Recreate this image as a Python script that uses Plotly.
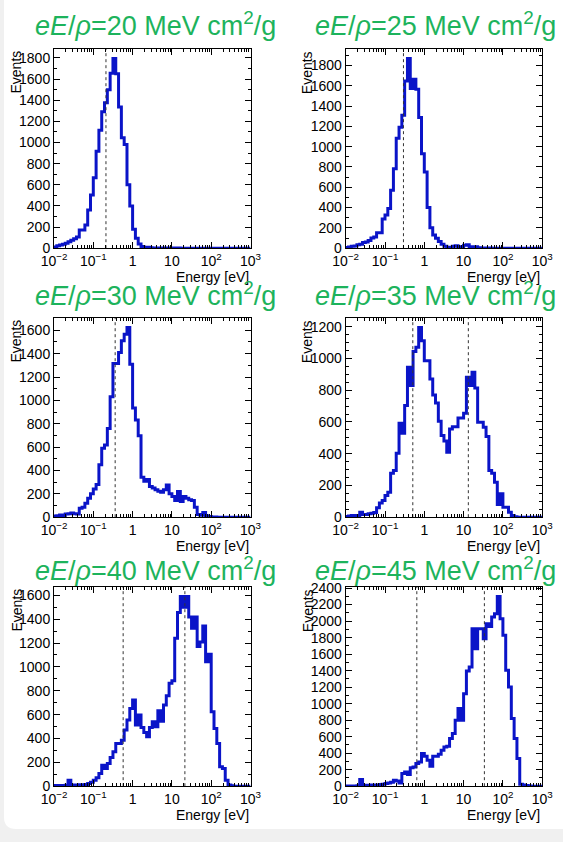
import numpy as np
import plotly.graph_objects as go
from plotly.subplots import make_subplots

FIG_W, FIG_H = 563, 842
FONT = "Liberation Sans, Arial, Helvetica, sans-serif"

# ---------------- data ----------------
field_labels = ["20", "25", "30", "35", "40", "45"]   # eE/rho in MeV cm^2/g
E_MIN, E_MAX, N_BINS = 1e-2, 1e3, 70                  # log-spaced energy bins [eV]

counts_20 = [12, 22, 30, 38, 48, 60, 75, 90, 105, 173, 173, 220, 362, 503,
             667, 918, 1116, 1290, 1377, 1500, 1655, 1795, 1650, 1335, 1045,
             980, 600, 400, 180, 95, 40, 15, 5, 8, 5, 3, 3, 2, 2, 1,
             2, 1, 1, 0, 1, 0, 0, 0, 0, 0, 0, 0, 0, 0, 0,
             0, 0, 0, 0, 0, 0, 0, 0, 0, 0, 0, 0, 0, 0, 0]
counts_25 = [8, 13, 18, 22, 33, 38, 55, 62, 75, 100, 110, 153, 153, 287,
             326, 391, 570, 783, 1083, 1190, 1310, 1646, 1868, 1572, 1663,
             1565, 1288, 929, 750, 401, 202, 130, 98, 65, 39, 20, 10, 8, 20,
             25, 15, 10, 30, 35, 15, 8, 15, 5, 3, 2, 1, 1, 0, 0, 0,
             0, 0, 0, 0, 0, 0, 0, 0, 0, 0, 0, 0, 0, 0, 0]
counts_30 = [10, 12, 18, 15, 28, 30, 37, 30, 28, 77, 85, 120, 162, 200,
             242, 279, 450, 590, 618, 760, 1031, 1316, 1316, 1410, 1510,
             1567, 1624, 1310, 934, 832, 698, 342, 308, 322, 262, 251, 234,
             222, 214, 234, 276, 200, 177, 142, 220, 134, 177, 162, 150, 142,
             85, 23, 17, 40, 12, 5, 2, 1, 0, 0, 0, 0, 0, 0, 0,
             0, 0, 0, 0, 0]
counts_35 = [5, 8, 10, 8, 10, 31, 17, 17, 21, 25, 29, 59, 90, 105, 136,
             157, 277, 294, 403, 592, 529, 703, 944, 829, 1043, 1070, 1195,
             1112, 985, 985, 870, 770, 720, 604, 514, 480, 409, 556, 570,
             570, 625, 625, 654, 881, 829, 913, 814, 598, 598, 566, 508,
             294, 277, 220, 80, 147, 63, 63, 31, 10, 3, 0, 0, 0, 0,
             0, 0, 0, 0, 0]
counts_40 = [5, 5, 5, 5, 8, 50, 8, 10, 10, 12, 12, 15, 22, 34, 50, 70,
             106, 176, 148, 190, 240, 288, 358, 358, 386, 470, 554, 652, 722,
             512, 596, 492, 450, 414, 492, 540, 498, 632, 545, 680, 758, 862,
             884, 1240, 1455, 1590, 1500, 1590, 1418, 1323, 1418, 1170, 1208,
             1343, 1043, 1105, 624, 484, 358, 162, 148, 50, 11, 3, 0,
             0, 0, 0, 0, 0]
counts_45 = [3, 3, 3, 3, 5, 80, 8, 10, 12, 14, 16, 16, 20, 25, 32, 40, 48,
             72, 64, 40, 153, 173, 141, 222, 234, 274, 294, 395, 363, 315,
             242, 363, 363, 387, 435, 476, 484, 577, 637, 798, 940, 798, 1121,
             1395, 1444, 1907, 1665, 1907, 1907, 1786, 1968, 1935, 2048, 2089,
             2298, 2028, 1827, 1403, 1202, 819, 577, 335, 24, 16, 8, 3,
             0, 0, 0, 0]

cuts_20 = [0.21]
cuts_25 = [0.295]
cuts_30 = [0.36]
cuts_35 = [0.51, 13.2]
cuts_40 = [0.575, 21.4]
cuts_45 = [0.645, 33.8]

all_counts = [counts_20, counts_25, counts_30, counts_35, counts_40, counts_45]
all_cuts = [cuts_20, cuts_25, cuts_30, cuts_35, cuts_40, cuts_45]
y_minor_step = [100, 100, 100, 50, 100, 100]

x_major = [1e-2, 1e-1, 1, 10, 100, 1000]
x_major_text = ["10<sup>−2</sup>", "10<sup>−1</sup>", "1", "10",
                "10<sup>2</sup>", "10<sup>3</sup>"]
x_minor = [m * 10.0 ** d for d in range(-2, 3) for m in range(2, 10)]

# ---------------- geometry (pixels) ----------------
col_left = [54, 345.7]
frame_w = 196.5
row_top = [49, 318, 587]
frame_h = 199.2

bin_edges = np.logspace(np.log10(E_MIN), np.log10(E_MAX), N_BINS + 1)

fig = make_subplots(rows=3, cols=2)

HIST_COLOR = "#0a14c8"
GREEN = "#1db35c"

for i, (counts, cuts) in enumerate(zip(all_counts, all_cuts)):
    r, c = i // 2, i % 2
    xs = list(bin_edges[:-1]) + [bin_edges[-1]]
    ys = list(counts) + [counts[-1]]
    fig.add_trace(go.Scatter(x=xs, y=ys, mode="lines", line_shape="hv",
                             line=dict(color=HIST_COLOR, width=3),
                             showlegend=False, hoverinfo="skip"),
                  row=r + 1, col=c + 1)
    ymax = 1.05 * max(counts)
    for cut in cuts:
        fig.add_trace(go.Scatter(x=[cut, cut], y=[0, ymax], mode="lines",
                                 line=dict(color="#333333", width=1, dash="3px,3px"),
                                 showlegend=False, hoverinfo="skip"),
                      row=r + 1, col=c + 1)

    x0 = col_left[c] / FIG_W
    x1 = (col_left[c] + frame_w) / FIG_W
    yt = 1 - row_top[r] / FIG_H
    yb = 1 - (row_top[r] + frame_h) / FIG_H
    axn = "" if i == 0 else str(i + 1)
    fig.layout["xaxis" + axn].update(
        domain=[x0, x1], type="log", range=[-2, 3], showgrid=False,
        automargin=False,
        zeroline=False, showline=True, linecolor="black", linewidth=1,
        mirror="allticks", ticks="inside", ticklen=6, tickwidth=1,
        tickcolor="black", tickmode="array", tickvals=x_major,
        ticktext=x_major_text,
        tickfont=dict(family=FONT, size=14, color="black"),
        minor=dict(tickmode="array", tickvals=x_minor, ticks="inside",
                   ticklen=3, tickwidth=1, tickcolor="black", showgrid=False))
    fig.layout["yaxis" + axn].update(
        domain=[yb, yt], range=[0, ymax], showgrid=False, zeroline=False,
        automargin=False,
        showline=True, linecolor="black", linewidth=1, mirror="allticks",
        ticks="inside", ticklen=6, tickwidth=1, tickcolor="black",
        tick0=0, dtick=200,
        tickfont=dict(family=FONT, size=14, color="black"),
        minor=dict(tick0=0, dtick=y_minor_step[i], ticks="inside", ticklen=3,
                   tickwidth=1, tickcolor="black", showgrid=False))

    # panel title
    title_cx = [155.5, 435.5][c]
    title_cy = [24, 294, 569][r]
    fig.add_annotation(
        xref="paper", yref="paper", x=title_cx / FIG_W, y=1 - title_cy / FIG_H,
        xanchor="center", yanchor="middle", showarrow=False,
        text="<i>eE</i>/<i>ρ</i>=" + field_labels[i] + " MeV cm<sup>2</sup>/g",
        font=dict(family=FONT, size=27, color=GREEN))
    # y title
    fig.add_annotation(
        xref="paper", yref="paper", x=(col_left[c] - 38) / FIG_W, y=yt,
        xanchor="center", yanchor="top", showarrow=False, textangle=-90,
        text="Events", font=dict(family=FONT, size=14, color="black"))
    # x title
    fig.add_annotation(
        xref="paper", yref="paper", x=x1, y=1 - (row_top[r] + frame_h + 29) / FIG_H,
        xanchor="right", yanchor="middle", showarrow=False,
        text="Energy [eV]", font=dict(family=FONT, size=14, color="black"))

# white card with rounded lower-left corner on a light grey page
cx0, cyb, rad = 4 / FIG_W, 1 - 829 / FIG_H, 12
fig.add_shape(type="path", xref="paper", yref="paper", layer="below",
              path=(f"M {cx0},1 L 1,1 L 1,{cyb} L {cx0 + rad / FIG_W},{cyb} "
                    f"Q {cx0},{cyb} {cx0},{cyb + rad / FIG_H} Z"),
              fillcolor="white", line=dict(width=0))

fig.update_layout(width=FIG_W, height=FIG_H, autosize=False,
                  margin=dict(l=0, r=0, t=0, b=0),
                  paper_bgcolor="#f0f0f0", plot_bgcolor="rgba(0,0,0,0)",
                  font=dict(family=FONT))

fig.write_html("out.html")
